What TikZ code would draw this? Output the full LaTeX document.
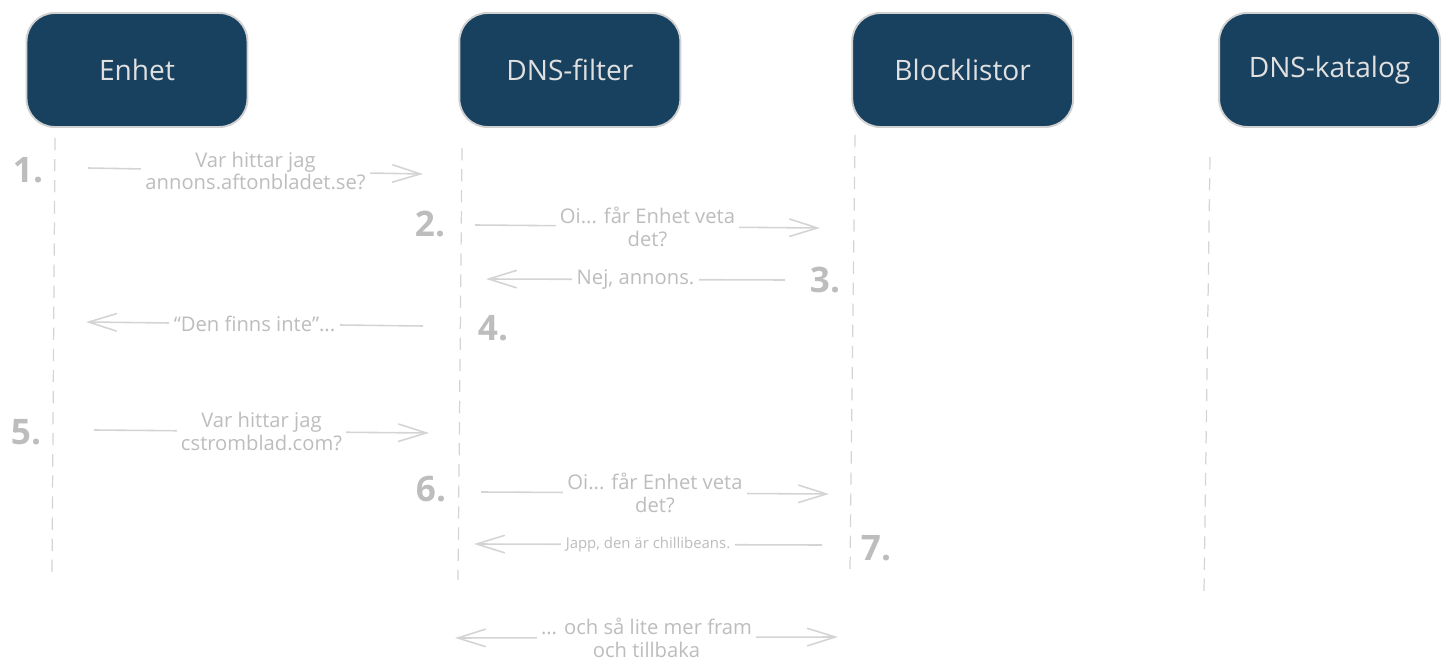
\documentclass[tikz,border=0pt]{standalone}
\usepackage{fontspec}
\setmainfont{Open Sans}
\usetikzlibrary{positioning}
\usetikzlibrary{arrows.meta}
\definecolor{boxblue}{HTML}{18405F}
\definecolor{boxedge}{gray}{.82}
\definecolor{lightgray}{gray}{.83}
\definecolor{textgray}{gray}{.74}

\tikzset{
  actor/.style={rectangle, rounded corners=16pt, fill=boxblue, draw=boxedge, line width=1.1pt,
    minimum width=4.42cm, minimum height=2.28cm, text=white!88!black, font=\fontsize{16}{19}\selectfont},
  lifeline/.style={dashed, dash pattern=on 7pt off 5pt, color=lightgray, line width=.7pt},
  stepnum/.style={text=textgray, font=\fontsize{20}{22}\selectfont\bfseries},
  msg/.style={color=lightgray, line width=.9pt},
  msglabel/.style={fill=white, text=textgray, align=center, inner sep=2.5pt,
    font=\fontsize{11.5}{13}\selectfont},
}

\begin{document}
\begin{tikzpicture}[x=0.02cm, y=-0.02cm,
  >={Straight Barb[length=16pt, width=10pt]}   % open pointed tips
]
\useasboundingbox (0,0) rectangle (1448,672);

% Aktoerer
\node[actor] (enhet) at (137,70) {Enhet};
\node[actor, right=4.2cm of enhet] (filter) {DNS-filter};
\node[actor, right=3.4cm of filter] (block) {Blocklistor};
\node[actor, right=2.88cm of block] (katalog) {DNS-katalog};

% Livslinjer
\foreach \x/\ya/\xb/\yb in {55/138/52/572, 462/148/458/580, 855/135/850/570, 1210/157/1204/592}
  \draw[lifeline] (\x,\ya) -- (\xb,\yb);

% Stegnummer
\foreach \n/\x/\y in {1/28/170, 2/430/224, 3/825/280, 4/493/328, 5/26/432, 6/431/489, 7/876/548}
  \node[stepnum] (n\n) at (\x,\y) {\n.};

% Meddelanden
\coordinate (m1s) at (88,168);  \coordinate (m1e) at (423,174);
\coordinate (m2s) at (475,225); \coordinate (m2e) at (820,228);
\coordinate (m3s) at (785,280); \coordinate (m3e) at (486,279);
\coordinate (m4s) at (423,326); \coordinate (m4e) at (86,322);
\coordinate (m5s) at (94,430);  \coordinate (m5e) at (429,433);
\coordinate (m6s) at (481,492); \coordinate (m6e) at (829,494);
\coordinate (m7s) at (822,545); \coordinate (m7e) at (474,544);
\coordinate (m8s) at (455,638); \coordinate (m8e) at (838,637);

\draw[msg,->] (m1s) -- node[msglabel] {Var hittar jag\\annons.aftonbladet.se?} (m1e);
\draw[msg,->] (m2s) -- node[msglabel] {Oi... får Enhet veta\\det?} (m2e);
\draw[msg,->] (m3s) -- node[msglabel] {Nej, annons.} (m3e);
\draw[msg,->] (m4s) -- node[msglabel] {“Den finns inte”...} (m4e);
\draw[msg,->] (m5s) -- node[msglabel] {Var hittar jag\\cstromblad.com?} (m5e);
\draw[msg,->] (m6s) -- node[msglabel] {Oi... får Enhet veta\\det?} (m6e);
\draw[msg,->] (m7s) -- node[msglabel, font=\fontsize{8.5}{10}\selectfont] {Japp, den är chillibeans.} (m7e);
\draw[msg,<->] (m8s) -- node[msglabel] {... och så lite mer fram\\och tillbaka} (m8e);
\end{tikzpicture}
\end{document}
